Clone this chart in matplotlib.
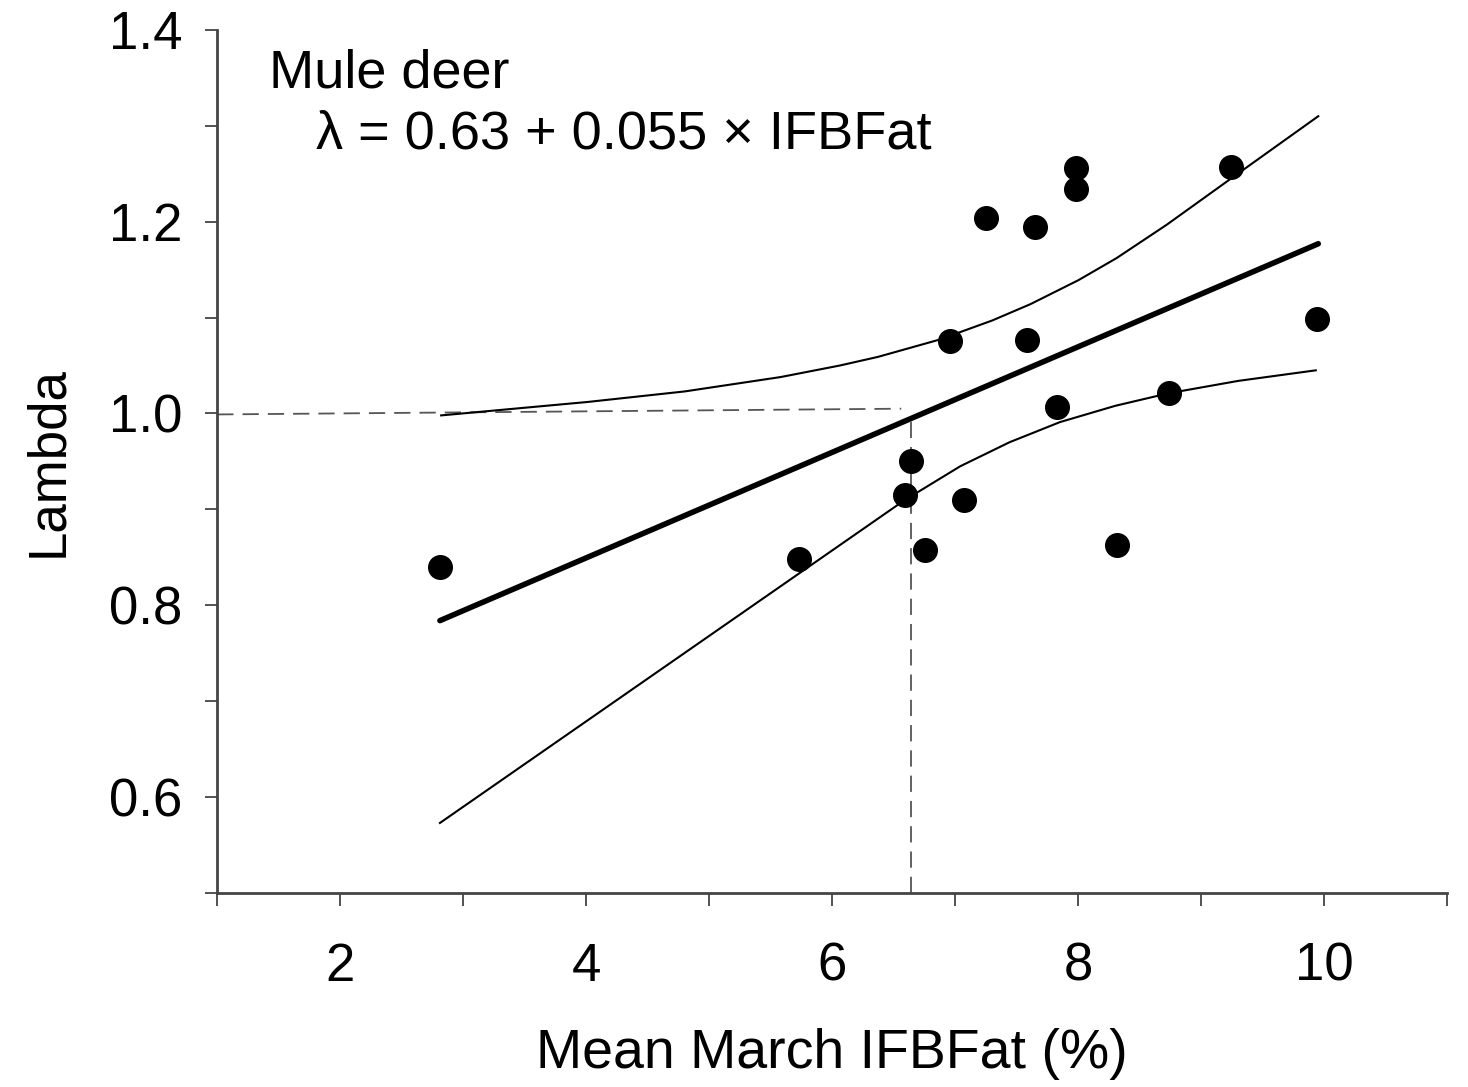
import matplotlib.pyplot as plt

plt.rcParams['font.family'] = ['Liberation Sans', 'DejaVu Sans']

# observed points
fat = [2.81, 5.73, 6.59, 6.64, 6.75, 6.96, 7.07, 7.25, 7.58, 7.65, 7.83,
       7.98, 7.98, 8.31, 8.74, 9.24, 9.94]
lam = [0.840, 0.848, 0.915, 0.950, 0.858, 1.076, 0.910, 1.204, 1.077, 1.194,
       1.007, 1.256, 1.234, 0.863, 1.021, 1.257, 1.099]

# fitted line (end points)
fit_x = [2.81, 9.95]
fit_y = [0.784, 1.177]

# confidence band, upper
up_x = [2.82, 4.01, 4.80, 5.58, 6.06, 6.37, 6.87, 7.30, 7.61, 8.00, 8.31,
        8.72, 9.23, 9.95]
up_y = [0.998, 1.012, 1.023, 1.038, 1.050, 1.059, 1.077, 1.097, 1.114, 1.139,
        1.162, 1.197, 1.244, 1.310]

# confidence band, lower
lo_x = [2.81, 6.58, 7.04, 7.44, 7.85, 8.30, 8.73, 9.30, 9.93]
lo_y = [0.573, 0.909, 0.945, 0.970, 0.991, 1.008, 1.021, 1.034, 1.045]

# lambda = 1 reference
ref_x = [1.0, 6.56]
ref_y = [0.999, 1.005]
cross_x = 6.64

fig = plt.figure(figsize=(14.68, 10.87), dpi=100)
ax = fig.add_axes([0.148, 0.1785, 0.838, 0.794])

ax.plot(ref_x, ref_y, color='#555555', lw=1.3, dashes=(9, 5))
ax.plot([cross_x, cross_x], [0.5, 1.0], color='#555555', lw=1.3, dashes=(9, 5))
ax.plot(up_x, up_y, color='black', lw=1.5)
ax.plot(lo_x, lo_y, color='black', lw=1.5)
ax.plot(fit_x, fit_y, color='black', lw=4, solid_capstyle='round')
ax.plot(fat, lam, 'o', color='black', ms=17, zorder=5)

ax.set_xlim(1, 11)
ax.set_ylim(0.5, 1.4)
ax.set_xticks([2, 4, 6, 8, 10])
ax.set_xticks([1, 3, 5, 7, 9, 11], minor=True)
ax.set_yticks([0.6, 0.8, 1.0, 1.2, 1.4])
ax.set_yticklabels(['0.6', '0.8', '1.0', '1.2', '1.4'])
ax.set_yticks([0.5, 0.7, 0.9, 1.1, 1.3], minor=True)

for s in ['top', 'right']:
    ax.spines[s].set_visible(False)
for s in ['left', 'bottom']:
    ax.spines[s].set_color('#444444')
    ax.spines[s].set_linewidth(2)

ax.tick_params(which='both', direction='out', length=9, width=1.3,
               color='#444444')
ax.tick_params(axis='x', which='major', labelsize=38, pad=26)
ax.tick_params(axis='y', which='major', labelsize=38, pad=16)

ax.set_xlabel('Mean March IFBFat (%)', fontsize=40, labelpad=26)
ax.set_ylabel('Lambda', fontsize=38, labelpad=26)

ax.text(1.42, 1.340, 'Mule deer', fontsize=39, va='baseline')
ax.text(1.80, 1.276, 'λ = 0.63 + 0.055 × IFBFat', fontsize=39, va='baseline')

plt.savefig('out.png', dpi=100)
